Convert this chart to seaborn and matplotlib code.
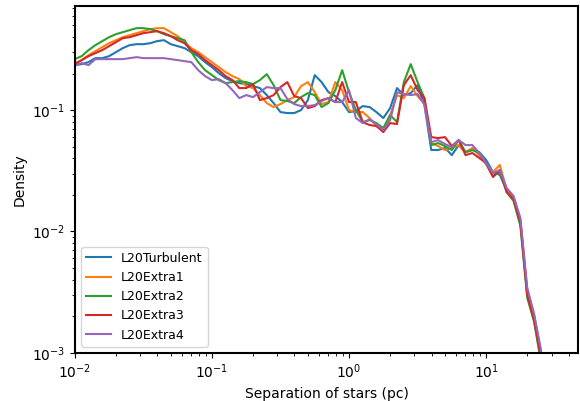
import numpy as np
import pandas as pd
import seaborn as sns
import matplotlib
matplotlib.use("Agg")
import matplotlib.pyplot as plt

# separation grid (pc), log-spaced bins
separation = [10 ** (-2 + 0.05 * i) for i in range(70)]

runs = ["L20Turbulent", "L20Extra1", "L20Extra2", "L20Extra3", "L20Extra4"]

turbulent = [0.2346, 0.2391, 0.2484, 0.2679, 0.2679, 0.2782, 0.3001, 0.3238, 0.3428, 0.3491,
             0.3491, 0.3558, 0.3696, 0.3767, 0.3491, 0.3363, 0.3238, 0.3001, 0.2782, 0.2484,
             0.2259, 0.2016, 0.1834, 0.1733, 0.1668, 0.1637, 0.1576, 0.1518, 0.1329, 0.1142,
             0.0963, 0.0945, 0.0945, 0.1000, 0.1209, 0.1941, 0.1700, 0.1406, 0.1304, 0.1164,
             0.0963, 0.0981, 0.1079, 0.1059, 0.0963, 0.0860, 0.1039, 0.1518, 0.1329, 0.1380,
             0.1606, 0.1099, 0.0469, 0.0469, 0.0487, 0.0426, 0.0515, 0.0451, 0.0469, 0.0451,
             0.0388, 0.0309, 0.0292, 0.0220, 0.0185, 0.01197, 0.00312, 0.00194, 0.00094, 0.00023]

extra1 = [0.2437, 0.2579, 0.2835, 0.3059, 0.3300, 0.3558, 0.3767, 0.3988, 0.4142, 0.4302,
          0.4469, 0.4642, 0.4730, 0.4730, 0.4385, 0.4064, 0.3627, 0.3238, 0.3001, 0.2730,
          0.2484, 0.2259, 0.2055, 0.1905, 0.1799, 0.1576, 0.1518, 0.1329, 0.1142, 0.1059,
          0.1120, 0.1209, 0.1279, 0.1576, 0.1700, 0.1406, 0.1120, 0.1164, 0.1700, 0.1461,
          0.1000, 0.0963, 0.0963, 0.0860, 0.0739, 0.0685, 0.0910, 0.1329, 0.1255, 0.1576,
          0.1304, 0.1120, 0.0535, 0.0505, 0.0469, 0.0487, 0.0515, 0.0451, 0.0487, 0.0426,
          0.0359, 0.0309, 0.0353, 0.0220, 0.0192, 0.01244, 0.00330, 0.00206, 0.00102, 0.00026]

extra2 = [0.2629, 0.2782, 0.3118, 0.3428, 0.3696, 0.3988, 0.4221, 0.4385, 0.4555, 0.4730,
          0.4730, 0.4642, 0.4469, 0.4221, 0.4064, 0.3913, 0.3767, 0.3001, 0.2484, 0.2134,
          0.1941, 0.1766, 0.1668, 0.1700, 0.1733, 0.1700, 0.1637, 0.1766, 0.1978, 0.1606,
          0.1209, 0.1186, 0.1142, 0.1279, 0.1380, 0.1329, 0.1059, 0.1142, 0.1461, 0.2134,
          0.1406, 0.1000, 0.0796, 0.0827, 0.0782, 0.0711, 0.0910, 0.0796, 0.1700, 0.2391,
          0.1700, 0.1255, 0.0515, 0.0535, 0.0505, 0.0469, 0.0566, 0.0451, 0.0469, 0.0443,
          0.0359, 0.0286, 0.0309, 0.0211, 0.0178, 0.01110, 0.00284, 0.00180, 0.00084, 0.00021]

extra3 = [0.2391, 0.2579, 0.2782, 0.2945, 0.3118, 0.3363, 0.3627, 0.3913, 0.3988, 0.4142,
          0.4302, 0.4385, 0.4469, 0.4302, 0.4064, 0.3767, 0.3558, 0.3118, 0.2890, 0.2579,
          0.2346, 0.2134, 0.1905, 0.1766, 0.1518, 0.1518, 0.1637, 0.1209, 0.1255, 0.1329,
          0.1547, 0.1700, 0.1304, 0.1255, 0.1039, 0.1079, 0.1209, 0.1255, 0.1164, 0.1700,
          0.1164, 0.1164, 0.0796, 0.0753, 0.0739, 0.0659, 0.0782, 0.0767, 0.1606, 0.1941,
          0.1461, 0.1255, 0.0599, 0.0588, 0.0599, 0.0505, 0.0566, 0.0426, 0.0443, 0.0403,
          0.0366, 0.0281, 0.0321, 0.0211, 0.0185, 0.01175, 0.00300, 0.00187, 0.00091, 0.00023]

extra4 = [0.2346, 0.2437, 0.2346, 0.2629, 0.2629, 0.2629, 0.2629, 0.2629, 0.2679, 0.2730,
          0.2679, 0.2679, 0.2679, 0.2679, 0.2629, 0.2579, 0.2531, 0.2484, 0.2134, 0.1905,
          0.1766, 0.1799, 0.1668, 0.1461, 0.1255, 0.1329, 0.1279, 0.1406, 0.1547, 0.1518,
          0.1518, 0.1232, 0.1120, 0.1079, 0.1079, 0.1099, 0.1186, 0.1255, 0.1164, 0.1164,
          0.1461, 0.0860, 0.0782, 0.0843, 0.0767, 0.0685, 0.0827, 0.1406, 0.1354, 0.1329,
          0.1354, 0.1120, 0.0545, 0.0566, 0.0525, 0.0496, 0.0566, 0.0515, 0.0515, 0.0443,
          0.0366, 0.0303, 0.0321, 0.0228, 0.0196, 0.01292, 0.00343, 0.00209, 0.00106, 0.00028]

series = [turbulent, extra1, extra2, extra3, extra4]

frames = []
for name, vals in zip(runs, series):
    frames.append(pd.DataFrame({"sep": separation, "density": vals, "run": name}))
df = pd.concat(frames, ignore_index=True)

plt.style.use("default")
plt.rcParams["axes.linewidth"] = 1.5
plt.rcParams["font.family"] = ["DejaVu Sans"]

fig = plt.figure(figsize=(5.8, 4.01), dpi=100)
ax = fig.add_axes([0.129, 0.120, 0.868, 0.865])

sns.lineplot(data=df, x="sep", y="density", hue="run", hue_order=runs,
             palette=sns.color_palette("tab10", 5), sort=False, estimator=None,
             linewidth=1.5, ax=ax)

ax.set_xscale("log")
ax.set_yscale("log")
ax.set_xlim(1e-2, 47)
ax.set_ylim(1e-3, 0.72)
ax.set_xlabel("Separation of stars (pc)", fontsize=10)
ax.set_ylabel("Density", fontsize=10)
ax.tick_params(labelsize=10)
sns.move_legend(ax, "lower left", title=None, fontsize=9, frameon=True)

fig.savefig("out.png", dpi=100)
